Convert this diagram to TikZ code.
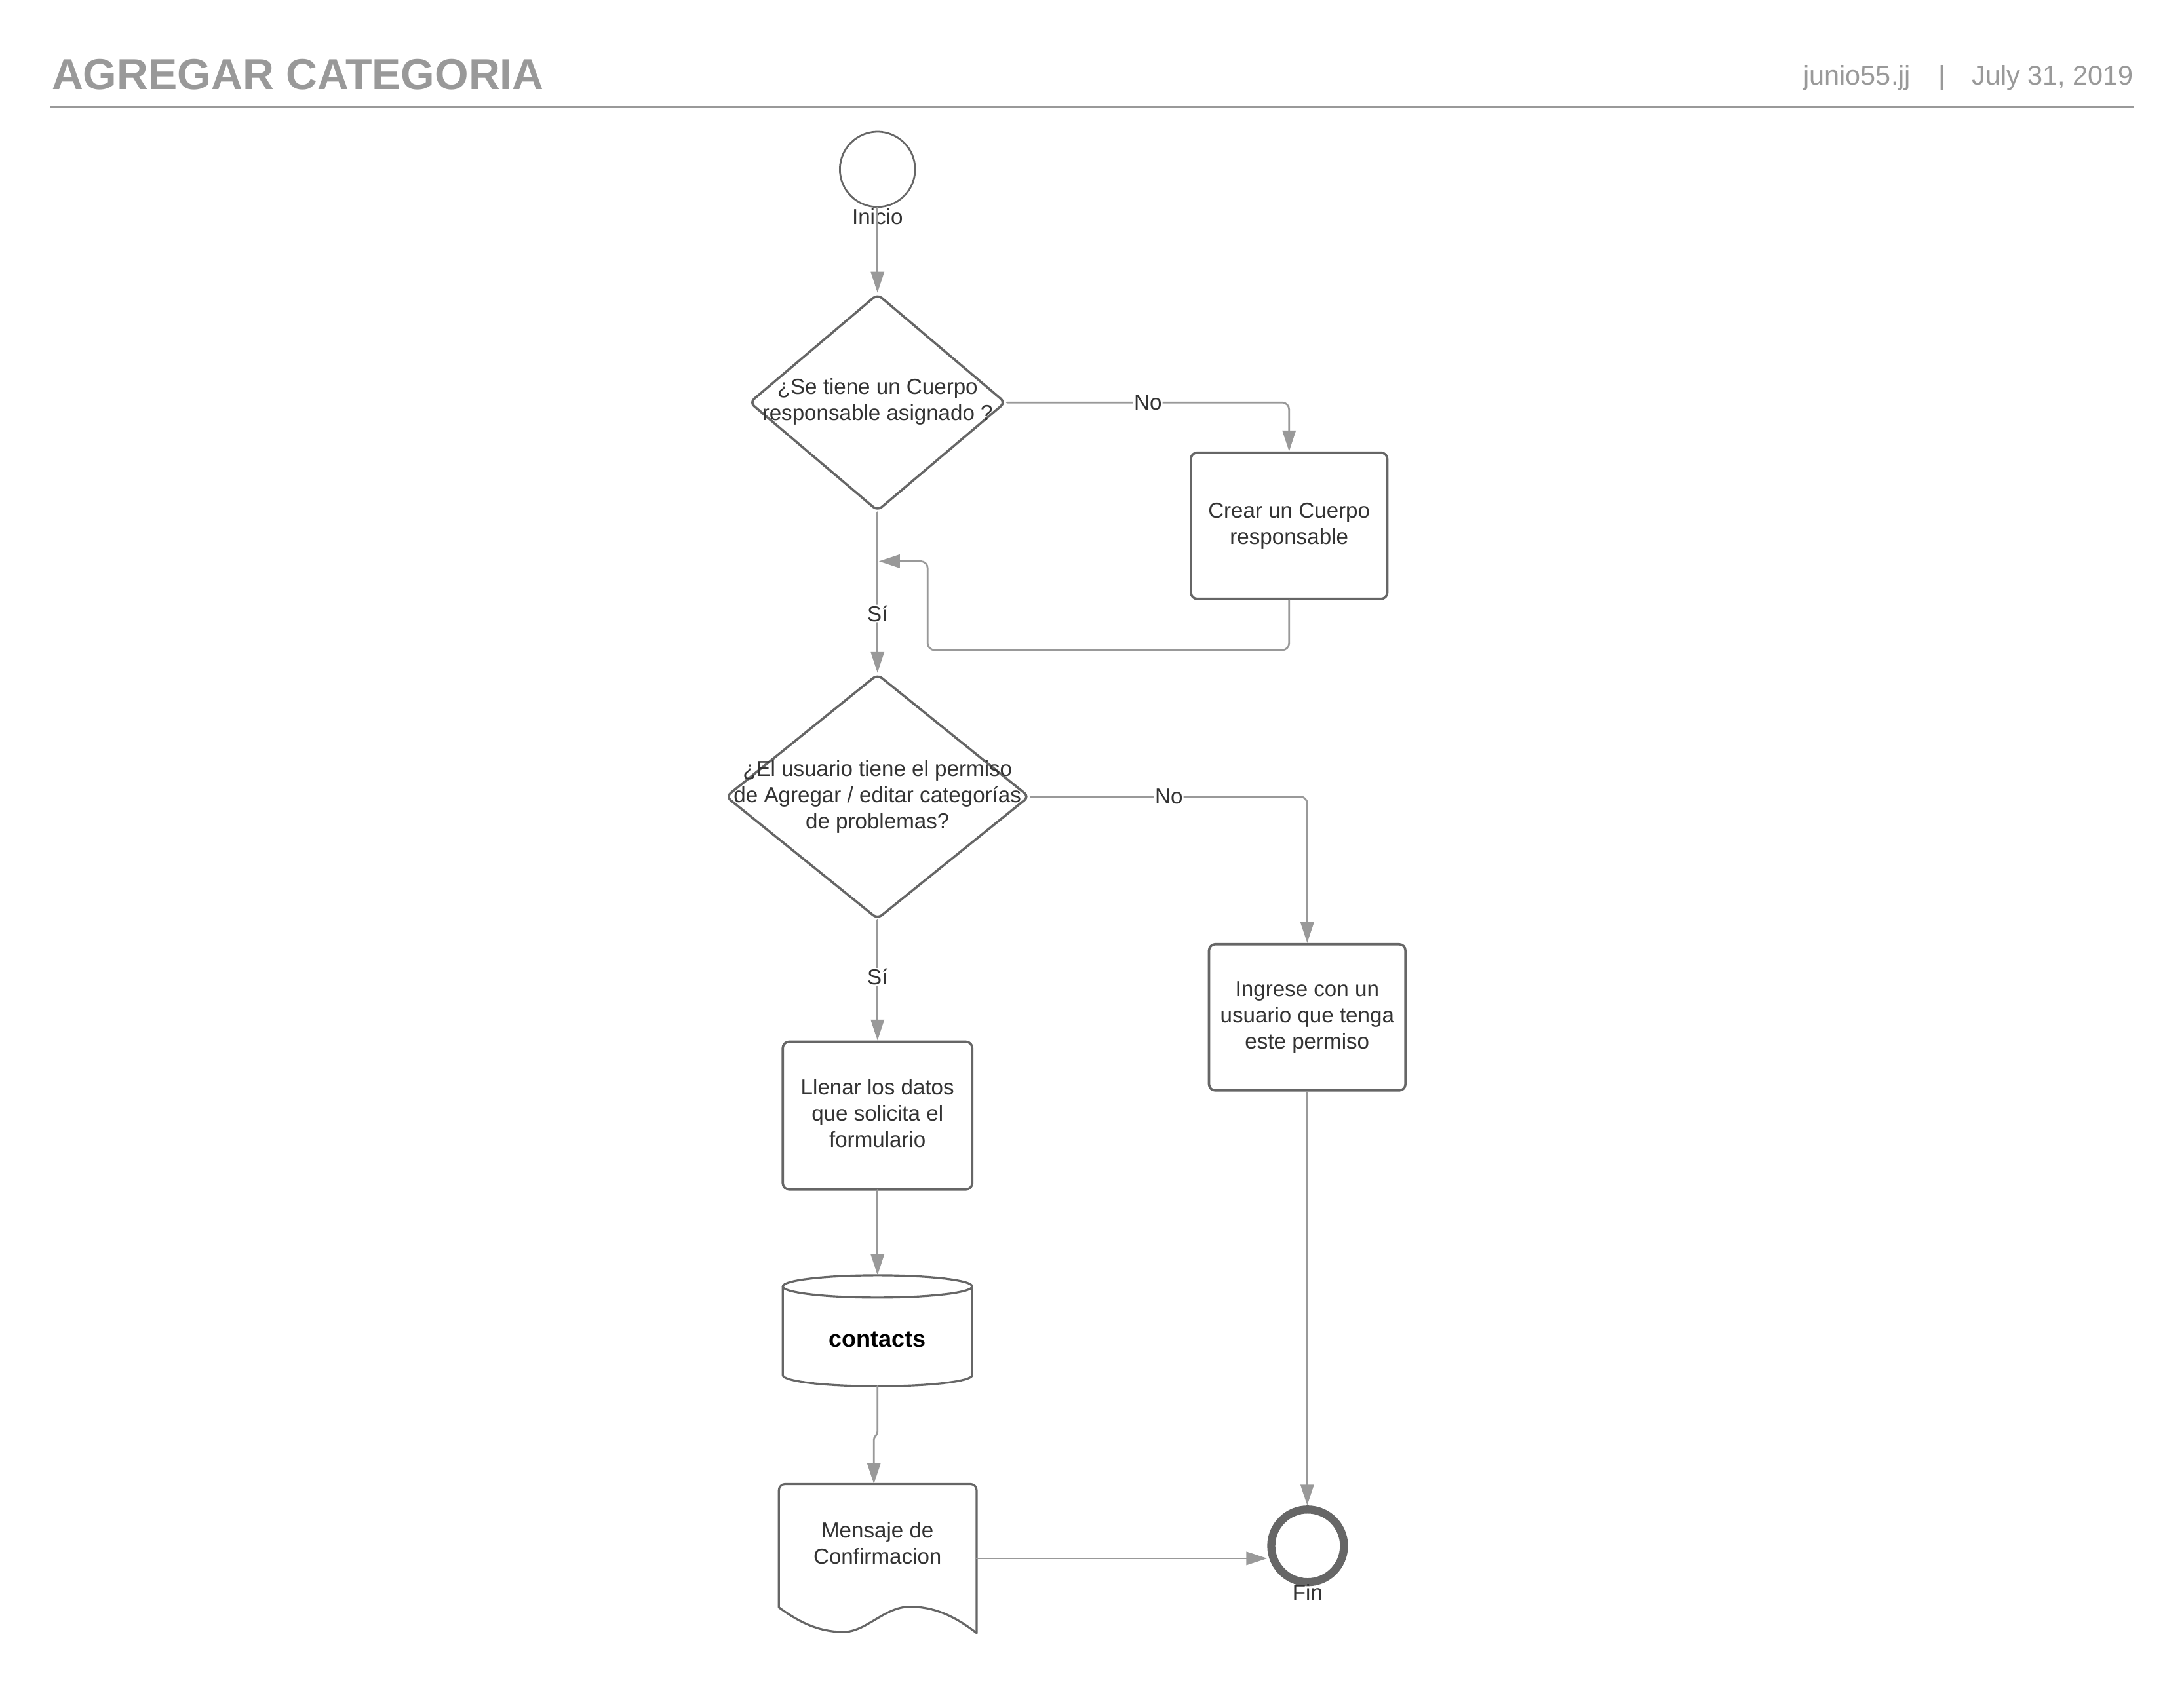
\documentclass[tikz,border=0pt]{standalone}
\usepackage{fontspec}
\setmainfont{Liberation Sans}
\usetikzlibrary{shapes.geometric,arrows.meta}
\definecolor{headgray}{HTML}{999999}
\definecolor{shapegray}{HTML}{666666}
\definecolor{linegray}{HTML}{999999}
\definecolor{textgray}{HTML}{333333}
\begin{document}
\begin{tikzpicture}[x=1pt,y=-1pt, line join=round, line cap=round,
  >={Triangle[length=15pt,width=9.5pt]},
  every node/.style={font=\fontsize{15.6}{18.8}\selectfont, text=textgray, align=center},
  box/.style={draw=shapegray, line width=1.7pt, rounded corners=4.5pt, minimum width=141pt, minimum height=105pt, inner sep=2pt},
  decision/.style={diamond, draw=shapegray, line width=1.7pt, rounded corners=4pt, inner sep=0pt},
  hold/.style={inner sep=0pt, outer sep=0pt},
  term/.style={circle, draw=shapegray, inner sep=0pt},
  outline/.style={draw=shapegray, line width=1.5pt},
  flow/.style={->, draw=linegray, line width=1.3pt, rounded corners=5pt},
  lbl/.style={fill=white, inner sep=0.5pt}]
\useasboundingbox (0,0) rectangle (1568,1207);
\node[anchor=base west, inner sep=0pt, text=headgray, font=\fontsize{31.2}{36}\selectfont\bfseries] (title) at (37,64) {AGREGAR CATEGORIA};
\node[anchor=base east, inner sep=0pt, text=headgray, font=\fontsize{19.5}{23}\selectfont] (meta) at (1532,61) {junio55.jj\hspace{20pt}|\hspace{19pt}July 31, 2019};
\draw[headgray, line width=1.6pt, line cap=butt] (36,77) -- (1532,77);
\node[term, line width=1.3pt, minimum size=54pt] (start) at (630,121.6) {};
\node (starttxt) at (630,155.6) {Inicio};
\node[decision, minimum width=184pt, minimum height=156pt] (q1) at (630,289) {};
\node (q1txt) at (630,288.5) {¿Se tiene un Cuerpo\\responsable asignado ?};
\node[box] (crear) at (925.5,377.5) {\strut Crear un Cuerpo\\responsable\strut};
\coordinate (join) at (631,403);
\node[decision, minimum width=218pt, minimum height=176pt] (q2) at (630,572) {};
\node (q2txt) at (630,572) {¿El usuario tiene el permiso\\de Agregar / editar categorías\\de problemas?};
\node[box] (ingreso) at (938.5,730.5) {\strut Ingrese con un\\usuario que tenga\\este permiso\strut};
\node[box, minimum width=136pt, minimum height=106pt] (llenar) at (630,801) {\strut Llenar los datos\\que solicita el\\formulario\strut};
\draw[outline, fill=white] (562,923.7) -- (562,987.4) arc[start angle=180,end angle=360,x radius=68pt,y radius=8pt] -- (698,923.7) arc[start angle=0,end angle=180,x radius=68pt,y radius=8pt] -- cycle;
\draw[outline] (562,923.7) arc[start angle=180,end angle=360,x radius=68pt,y radius=8pt];
\node[hold, minimum width=136pt, minimum height=79.7pt] (db) at (630,955.5) {};
\node[font=\fontsize{17}{20}\selectfont\bfseries, text=black] (dbtxt) at (630,961.6) {contacts};
\draw[outline, rounded corners=4.5pt] (559.2,1154.2) -- (559.2,1065.6) -- (701.2,1065.6) -- (701.2,1172.6);
\draw[outline] (701.2,1172.6) .. controls (685,1160) and (670,1153.7) .. (653.3,1153.7) .. controls (635,1153.7) and (622,1171.8) .. (605.5,1171.8) .. controls (585,1171.8) and (570,1162) .. (559.2,1154.2);
\node[hold, minimum width=142pt, minimum height=88.8pt] (msg) at (630,1110) {\strut Mensaje de\\Confirmacion\strut};
\node[term, line width=5.8pt, minimum size=52.2pt] (fin) at (938.8,1110) {};
\node (fintxt) at (938.8,1143.5) {Fin};
\draw[flow] (start.south) -- (q1.north);
\draw[flow] (q1.east) -- node[lbl]{No} (q1.east -| crear.north) -- (crear.north);
\draw[flow] (crear.south) -- ++(0,36) -| ([xshift=35pt]join) -- (join);
\draw[flow] (q1.south) -- node[lbl, pos=0.63]{Sí} (q2.north);
\draw[flow] (q2.east) -- node[lbl]{No} (q2.east -| ingreso.north) -- (ingreso.north);
\draw[flow] (q2.south) -- node[lbl, pos=0.47]{Sí} (llenar.north);
\draw[flow] (llenar.south) -- (db.north);
\draw[flow, rounded corners=1.5pt] (db.south) -- ++(0,34) -- ++(-2.6,3) -- ([xshift=-2.6pt]msg.north);
\draw[flow] ([yshift=-9pt]msg.east) -- ([yshift=-9pt]msg.east -| fin.west);
\draw[flow] (ingreso.south) -- (ingreso.south |- fin.north);
\end{tikzpicture}
\end{document}
